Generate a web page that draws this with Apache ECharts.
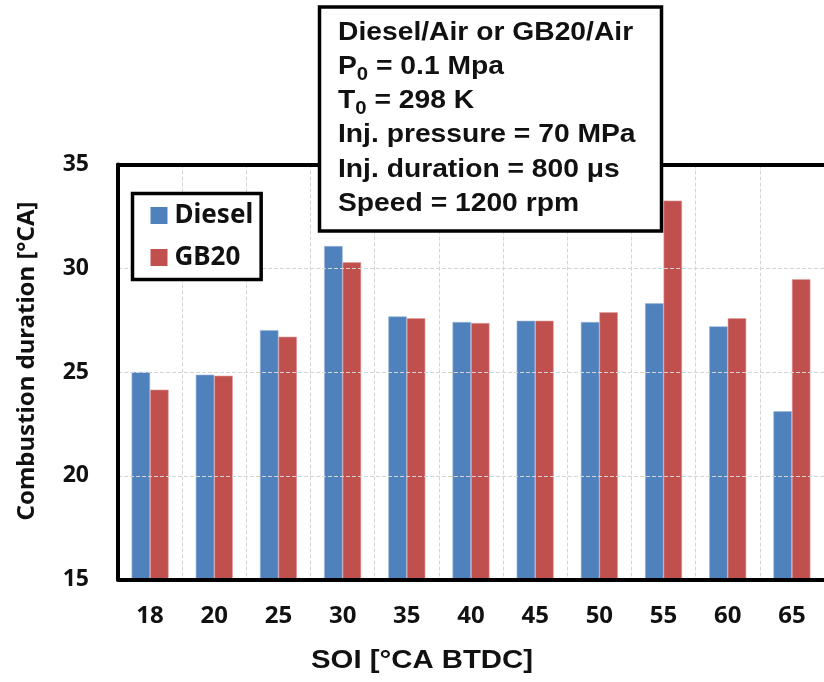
<!DOCTYPE html>
<html>
<head>
<meta charset="utf-8">
<script src="https://cdn.jsdelivr.net/npm/echarts@6/dist/echarts.min.js"></script>
<style>
  html, body { margin: 0; padding: 0; background: #fff; }
  #chart { width: 824px; height: 682px; }
</style>
</head>
<body>
<div id="chart"></div>
<script>
// SOI timings (°CA BTDC)
const categories = ['18', '20', '25', '30', '35', '40', '45', '50', '55', '60', '65'];
// Combustion duration [°CA]
const dieselValues = [25.0, 24.87, 27.02, 31.07, 27.68, 27.41, 27.47, 27.41, 28.31, 27.2, 23.11];
const gb20Values   = [24.15, 24.82, 26.7, 30.29, 27.59, 27.36, 27.47, 27.88, 33.26, 27.59, 29.47];
const yTicks = { min: 15, max: 35, interval: 5 };

// Test conditions shown in the boxed note
const conditionLines = [
  'Diesel/Air or GB20/Air',
  'P{s|0} = 0.1 Mpa',
  'T{s|0} = 298 K',
  'Inj. pressure = 70 MPa',
  'Inj. duration = 800 μs',
  'Speed = 1200 rpm'
];

const BLUE = '#4F81BD';
const RED = '#C0504D';
const AXIS_FONT = '"Noto Sans", "DejaVu Sans", sans-serif';
const NOTE_FONT = '"Liberation Sans", Arial, sans-serif';

const chart = echarts.init(document.getElementById('chart'), null, { renderer: 'canvas' });

const noteTop = 33, noteStep = 34.2;
const noteTexts = conditionLines.map((line, i) => ({
  type: 'text',
  z: 12,
  x: 0,
  y: noteTop + i * noteStep,
  style: {
    text: line,
    fill: '#111',
    font: 'bold 25px ' + NOTE_FONT,
    lineHeight: 34,
    verticalAlign: 'middle',
    align: 'left',
    rich: {
      s: { fontSize: 18, fontWeight: 'bold', fontFamily: NOTE_FONT, lineHeight: 18, verticalAlign: 'bottom', fill: '#111' }
    }
  }
}));

const plainAxisLine = { show: true, lineStyle: { color: '#000', width: 4 } };

chart.setOption({
  backgroundColor: '#fff',
  animation: false,
  grid: { left: 118, top: 164.5, right: -9, bottom: 102.5 },
  legend: {
    orient: 'vertical',
    left: 132.5, top: 193.5,
    padding: [9, 8, 9, 18],
    itemGap: 16,
    itemWidth: 17, itemHeight: 17,
    icon: 'rect',
    itemStyle: { borderWidth: 0 },
    borderColor: '#000', borderWidth: 3.5,
    backgroundColor: '#fff',
    textStyle: { fontFamily: AXIS_FONT, fontWeight: 'bold', fontSize: 26, color: '#111', padding: [0, 0, 0, 2] },
    data: ['Diesel', 'GB20']
  },
  xAxis: [
    {
      type: 'category',
      data: categories,
      z: 3,
      axisLine: plainAxisLine,
      axisTick: { show: false },
      axisLabel: { margin: 25, fontFamily: AXIS_FONT, fontWeight: 'bold', fontSize: 24, color: '#111' },
      splitLine: { show: true, interval: 0, lineStyle: { color: '#d4d4d4', type: 'dashed', width: 1 } }
    },
    {
      // plain top frame line
      type: 'category',
      data: categories,
      position: 'top',
      z: 3,
      axisLine: plainAxisLine,
      axisTick: { show: false },
      axisLabel: { show: false },
      splitLine: { show: false }
    }
  ],
  yAxis: {
    type: 'value',
    min: yTicks.min, max: yTicks.max, interval: yTicks.interval,
    z: 3,
    axisLine: plainAxisLine,
    axisTick: { show: false },
    axisLabel: { margin: 29, fontFamily: AXIS_FONT, fontWeight: 'bold', fontSize: 23, color: '#111' },
    splitLine: { show: true, lineStyle: { color: '#d4d4d4', type: 'dashed', width: 1 } }
  },
  series: [
    {
      name: 'Diesel', type: 'bar', data: dieselValues,
      barWidth: 18.5, barGap: '0%',
      itemStyle: { color: BLUE, borderColor: '#9db7dc', borderWidth: 0.6 }
    },
    {
      name: 'GB20', type: 'bar', data: gb20Values,
      barWidth: 18.5, barGap: '0%',
      itemStyle: { color: RED, borderColor: '#e0a09e', borderWidth: 0.6 }
    }
  ],
  graphic: [
    {
      type: 'text', z: 10,
      x: 27.5, y: 361, rotation: Math.PI / 2,
      style: {
        text: 'Combustion duration [°CA]',
        font: 'bold 24px ' + AXIS_FONT, fill: '#111',
        align: 'center', verticalAlign: 'middle'
      }
    },
    {
      type: 'text', z: 10,
      x: 422, y: 661, scaleX: 1.15,
      style: {
        text: 'SOI [°CA BTDC]',
        font: 'bold 25.5px ' + NOTE_FONT, fill: '#111',
        align: 'center', verticalAlign: 'middle'
      }
    },
    {
      type: 'rect', z: 10,
      shape: { x: 319.5, y: 7, width: 342, height: 224 },
      style: { fill: '#fff', stroke: '#000', lineWidth: 3.5 }
    },
    {
      type: 'group', z: 11,
      x: 338, y: 0, scaleX: 1.13,
      children: noteTexts
    }
  ]
});
</script>
</body>
</html>
